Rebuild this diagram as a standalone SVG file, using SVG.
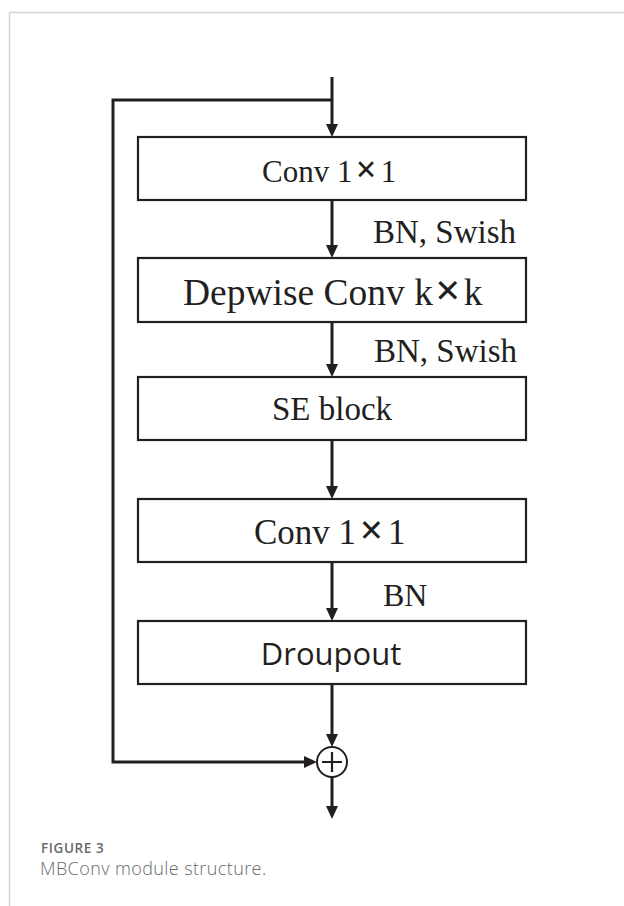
<svg xmlns="http://www.w3.org/2000/svg" width="624" height="906" viewBox="0 0 624 906">
  <style>
    .box { fill: #ffffff; stroke: #231f20; stroke-width: 2.2; }
    .wire { fill: none; stroke: #231f20; stroke-width: 3; }
    .serif { font-family: "Liberation Serif", "Times New Roman", serif; fill: #231f20; }
    .times { font-weight: bold; font-size: 1.2em; }
    .sans { font-family: "Open Sans", "DejaVu Sans", sans-serif; fill: #231f20; }
    .cap { font-family: "Open Sans", "Liberation Sans", sans-serif; fill: #6a6a6a; }
  </style>
  <defs>
    <marker id="arrow" viewBox="0 0 13 12" refX="8" refY="6" markerWidth="13" markerHeight="12" markerUnits="userSpaceOnUse" orient="auto">
      <path d="M0,0 L13,6 L0,12 Z" fill="#231f20"/>
    </marker>
  </defs>

  <!-- panel frame -->
  <g id="frame">
    <path d="M9.5,906 V12.5 H624" fill="none" stroke="#d6d6d6" stroke-width="1.5"/>
  </g>

  <!-- connectors -->
  <g id="connectors">
    <path class="wire" d="M332,77 V132" marker-end="url(#arrow)"/>
    <path class="wire" d="M332,100 H113 V762 H312" marker-end="url(#arrow)"/>
    <path class="wire" d="M332,200 V253" marker-end="url(#arrow)"/>
    <path class="wire" d="M332,322 V372" marker-end="url(#arrow)"/>
    <path class="wire" d="M332,440 V494" marker-end="url(#arrow)"/>
    <path class="wire" d="M332,562 V616" marker-end="url(#arrow)"/>
    <path class="wire" d="M332,684 V742" marker-end="url(#arrow)"/>
    <path class="wire" d="M332,777 V814" marker-end="url(#arrow)"/>
    <text class="serif" x="373" y="243" font-size="33">BN, Swish</text>
    <text class="serif" x="374" y="362" font-size="33">BN, Swish</text>
    <text class="serif" x="383" y="606" font-size="32">BN</text>
  </g>

  <!-- blocks -->
  <g id="conv-expand">
    <rect class="box" x="138" y="137" width="388" height="63"/>
    <text class="serif" x="262" y="182" font-size="31">Conv 1<tspan class="times" dx="3">×</tspan><tspan dx="4">1</tspan></text>
  </g>
  <g id="depthwise-conv">
    <rect class="box" x="138" y="258" width="388" height="64"/>
    <text class="serif" x="183" y="305" font-size="37.5">Depwise Conv k<tspan class="times" dx="2">×</tspan><tspan dx="3">k</tspan></text>
  </g>
  <g id="se-block">
    <rect class="box" x="138" y="377" width="388" height="63"/>
    <text class="serif" x="332" y="420" font-size="33" text-anchor="middle">SE block</text>
  </g>
  <g id="conv-project">
    <rect class="box" x="138" y="499" width="388" height="63"/>
    <text class="serif" x="254" y="544" font-size="35">Conv 1<tspan class="times" dx="3.5">×</tspan><tspan dx="4.5">1</tspan></text>
  </g>
  <g id="dropout">
    <rect class="box" x="138" y="621" width="388" height="63"/>
    <text class="sans" x="331" y="665" font-size="31" text-anchor="middle">Droupout</text>
  </g>
  <g id="add">
    <circle cx="332" cy="762" r="15" fill="#ffffff" stroke="#231f20" stroke-width="2"/>
    <path d="M322,762 H342 M332,752 V772" fill="none" stroke="#231f20" stroke-width="2.2"/>
  </g>

  <!-- caption -->
  <g id="caption">
    <text class="cap" x="41" y="853" font-size="13.5" font-weight="600" letter-spacing="0.6">FIGURE 3</text>
    <text class="cap" x="40" y="875" font-size="18" font-weight="300" letter-spacing="0.4">MBConv module structure.</text>
  </g>
</svg>
